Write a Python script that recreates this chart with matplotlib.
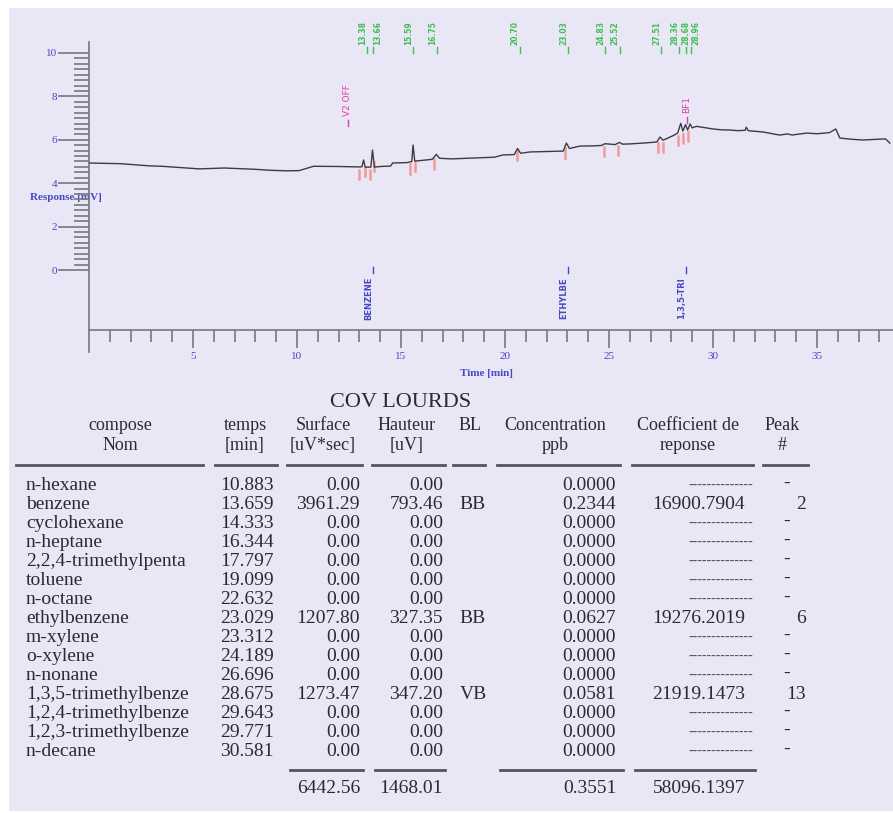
import matplotlib.pyplot as plt
import numpy as np
from matplotlib.patches import Rectangle
from matplotlib.ticker import FixedLocator

# chromatogram trace: time [min] / response [mV]
trace_time = [0.0, 1.5, 2.9, 3.5, 5.3, 6.5, 8.0, 8.6, 9.5, 10.1, 10.8, 12.0,
              13.0, 13.12, 13.2, 13.28, 13.55, 13.63, 13.72, 14.0, 14.5, 14.6,
              15.3, 15.52, 15.58, 15.66, 16.0, 16.5, 16.7, 16.85, 17.4, 18.5,
              19.5, 19.9, 20.45, 20.6, 20.75, 21.2, 22.0, 22.8, 22.95, 23.1,
              23.6, 24.2, 24.65, 24.8, 25.3, 25.5, 25.65, 26.0, 26.8, 27.3,
              27.45, 27.6, 28.1, 28.3, 28.45, 28.55, 28.68, 28.78, 28.9, 29.0,
              29.2, 29.6, 30.0, 30.4, 30.8, 31.2, 31.55, 31.6, 31.7, 32.4,
              33.2, 33.6, 33.8, 34.5, 35.0, 35.6, 35.9, 36.1, 36.6, 37.2,
              37.8, 38.3, 38.5]
trace_mv = [4.93, 4.90, 4.80, 4.78, 4.66, 4.70, 4.64, 4.60, 4.57, 4.58, 4.78, 4.77,
            4.75, 4.76, 5.07, 4.74, 4.74, 5.53, 4.74, 4.77, 4.79, 4.93,
            4.95, 5.00, 5.76, 5.02, 5.05, 5.10, 5.33, 5.15, 5.12, 5.16,
            5.20, 5.30, 5.32, 5.60, 5.38, 5.44, 5.46, 5.48, 5.85, 5.60,
            5.71, 5.72, 5.74, 5.82, 5.78, 5.88, 5.80, 5.81, 5.86, 5.90,
            6.13, 5.98, 6.20, 6.31, 6.76, 6.40, 6.70, 6.45, 6.73, 6.55,
            6.62, 6.56, 6.50, 6.46, 6.45, 6.42, 6.44, 6.58, 6.42, 6.36,
            6.22, 6.27, 6.22, 6.31, 6.28, 6.33, 6.50, 6.08, 6.03, 5.99,
            6.02, 6.04, 5.85]

peak_rt = [13.38, 13.66, 15.59, 16.75, 20.70, 23.03, 24.83, 25.52, 27.51, 28.36, 28.68, 28.96]
event_names = ['V2 OFF', 'BF1']
event_rt = [12.45, 28.75]
id_names = ['BENZENE', 'ETHYLBE', '1,3,5-TRI']
id_rt = [13.66, 23.03, 28.68]
integ_marks = [13.0, 13.25, 13.5, 13.68, 15.45, 15.65, 16.6, 20.6, 22.9, 24.75,
               25.45, 27.35, 27.6, 28.3, 28.55, 28.8]

# results table
compounds = ['n-hexane', 'benzene', 'cyclohexane', 'n-heptane', '2,2,4-trimethylpenta',
             'toluene', 'n-octane', 'ethylbenzene', 'm-xylene', 'o-xylene', 'n-nonane',
             '1,3,5-trimethylbenze', '1,2,4-trimethylbenze', '1,2,3-trimethylbenze', 'n-decane']
temps = [10.883, 13.659, 14.333, 16.344, 17.797, 19.099, 22.632, 23.029, 23.312,
         24.189, 26.696, 28.675, 29.643, 29.771, 30.581]
surface = [0, 3961.29, 0, 0, 0, 0, 0, 1207.80, 0, 0, 0, 1273.47, 0, 0, 0]
hauteur = [0, 793.46, 0, 0, 0, 0, 0, 327.35, 0, 0, 0, 347.20, 0, 0, 0]
bl = ['', 'BB', '', '', '', '', '', 'BB', '', '', '', 'VB', '', '', '']
conc = [0, 0.2344, 0, 0, 0, 0, 0, 0.0627, 0, 0, 0, 0.0581, 0, 0, 0]
coeff = [None, 16900.7904, None, None, None, None, None, 19276.2019, None, None,
         None, 21919.1473, None, None, None]
peak_no = [None, 2, None, None, None, None, None, 6, None, None, None, 13, None, None, None]
total_conc = 0.3551
total_coeff = 58096.1397

W, H = 893, 813
blue = '#4848c4'
ink = '#2a2a33'
serif = 'Liberation Serif'

fig = plt.figure(figsize=(W / 100, H / 100), dpi=100)
fig.patch.set_facecolor('white')

# page layer in pixel units
page = fig.add_axes([0, 0, 1, 1], zorder=0)
page.set_xlim(0, W)
page.set_ylim(H, 0)
page.axis('off')
page.add_patch(Rectangle((9, 8), W - 9, H - 10, color='#e9e7f6', lw=0))

# chromatogram axes, 20.8 px per min and 21.7 px per mV
px_min, px_mv, y0 = 20.8, 21.7, 270
x_left, y_bot = 89, 352
ax = fig.add_axes([x_left / W, 1 - y_bot / H, (W - x_left) / W, y_bot / H], zorder=1)
ax.patch.set_alpha(0)
tmax = (W - x_left) / px_min
ax.set_xlim(0, tmax)
ax.set_ylim((y0 - y_bot) / px_mv, y0 / px_mv)

axis_col = '#77777f'
for s in ['top', 'right']:
    ax.spines[s].set_visible(False)
ax.spines['bottom'].set_position(('data', (y0 - 330) / px_mv))
ax.spines['bottom'].set_bounds(0, tmax)
ax.spines['left'].set_bounds((y0 - y_bot) / px_mv, 10.5)
for s in ['bottom', 'left']:
    ax.spines[s].set_color(axis_col)
    ax.spines[s].set_linewidth(1.2)

ax.xaxis.set_major_locator(FixedLocator([5, 10, 15, 20, 25, 30, 35]))
ax.xaxis.set_minor_locator(FixedLocator(np.arange(1, 39)))
ax.yaxis.set_major_locator(FixedLocator([0, 2, 4, 6, 8, 10]))
ax.yaxis.set_minor_locator(FixedLocator(np.arange(0, 10.01, 0.25)))
ax.tick_params(axis='x', which='major', length=13, width=1.2, color=axis_col,
               labelcolor=blue, labelsize=8, pad=3)
ax.tick_params(axis='x', which='minor', length=8.5, width=1.2, color=axis_col)
ax.tick_params(axis='y', which='major', length=22, width=1.2, color=axis_col,
               labelcolor=blue, labelsize=8, pad=1)
ax.tick_params(axis='y', which='minor', length=11, width=1.2, color=axis_col)
for lab in ax.get_xticklabels() + ax.get_yticklabels():
    lab.set_fontfamily(serif)

ax.plot(trace_time, trace_mv, color='#3c3c40', lw=1.0, zorder=3)

# integration marks under the peaks
for t in integ_marks:
    v = np.interp(t, trace_time, trace_mv)
    ax.plot([t, t], [v - 0.12, v - 0.55], color='#f29a9a', lw=1.8, zorder=2)

# retention time labels; close neighbours are pushed apart
green = '#3fbf55'
for i, t in enumerate(peak_rt):
    near_prev = i > 0 and t - peak_rt[i - 1] < 0.4
    near_next = i < len(peak_rt) - 1 and peak_rt[i + 1] - t < 0.4
    if near_prev and near_next:
        ha = 'center'
    elif near_prev:
        ha = 'left'
    else:
        ha = 'right'
    ax.text(t, (y0 - 45) / px_mv, f'{t:.2f}', rotation=90, ha=ha, va='bottom',
            color=green, fontsize=5.5, fontweight='bold')
    ax.plot([t, t], [(y0 - 47) / px_mv, (y0 - 53) / px_mv], color=green, lw=1)

for name, t in zip(event_names, event_rt):
    base = 116 if name == 'V2 OFF' else 113
    ax.text(t, (y0 - base) / px_mv, name, rotation=90, ha='center', va='bottom',
            color='#e23ca8', fontsize=6.5)
    ax.plot([t, t], [(y0 - base - 4) / px_mv, (y0 - base - 10) / px_mv],
            color='#e23ca8', lw=1)

for name, t in zip(id_names, id_rt):
    ax.text(t, (y0 - 277) / px_mv, name, rotation=90, ha='right', va='top',
            color=blue, fontsize=6, fontweight='bold')
    ax.plot([t, t], [(y0 - 267) / px_mv, (y0 - 273) / px_mv], color=blue, lw=1)

page.text(30, 197, 'Response [mV]', color=blue, fontsize=8, family=serif,
          fontweight='bold', ha='left', va='center')
page.text(460, 373, 'Time [min]', color=blue, fontsize=8, family=serif,
          fontweight='bold', ha='left', va='center')

# table
fs = 14
page.text(401, 402, 'COV LOURDS', ha='center', va='center', fontsize=16,
          family=serif, color=ink)
headers = [(120, 'compose', 'Nom'), (245, 'temps', '[min]'), (323, 'Surface', '[uV*sec]'),
           (407, 'Hauteur', '[uV]'), (470, 'BL', ''), (555, 'Concentration', 'ppb'),
           (688, 'Coefficient de', 'reponse'), (782, 'Peak', '#')]
for x, l1, l2 in headers:
    page.text(x, 425, l1, ha='center', va='center', fontsize=fs - 1, family=serif, color=ink)
    page.text(x, 445, l2, ha='center', va='center', fontsize=fs - 1, family=serif, color=ink)
for x1, x2 in [(16, 203), (215, 277), (287, 362), (372, 445), (453, 485), (497, 620),
               (632, 753), (763, 808)]:
    page.plot([x1, x2], [465, 465], color='#55555e', lw=2)

for i, name in enumerate(compounds):
    y = 485 + 19 * i
    kw = dict(va='center', fontsize=fs, family=serif, color=ink)
    page.text(26, y, name, ha='left', **kw)
    page.text(274, y, f'{temps[i]:.3f}', ha='right', **kw)
    page.text(360, y, f'{surface[i]:.2f}', ha='right', **kw)
    page.text(443, y, f'{hauteur[i]:.2f}', ha='right', **kw)
    page.text(473, y, bl[i], ha='center', **kw)
    page.text(616, y, f'{conc[i]:.4f}', ha='right', **kw)
    if coeff[i] is None:
        page.text(753, y, '-' * 14, ha='right', va='center', fontsize=10,
                  family=serif, color='#55555e')
        page.text(787, y - 2, '-', ha='center', **kw)
    else:
        page.text(745, y, f'{coeff[i]:.4f}', ha='right', **kw)
        page.text(806, y, str(peak_no[i]), ha='right', **kw)

for x1, x2 in [(290, 363), (375, 445), (500, 623), (635, 755)]:
    page.plot([x1, x2], [770, 770], color='#55555e', lw=2)
kw = dict(va='center', ha='right', fontsize=fs, family=serif, color=ink)
page.text(360, 788, f'{sum(surface):.2f}', **kw)
page.text(443, 788, f'{sum(hauteur):.2f}', **kw)
page.text(617, 788, f'{total_conc:.4f}', **kw)
page.text(745, 788, f'{total_coeff:.4f}', **kw)

fig.savefig('out.png', dpi=100)
